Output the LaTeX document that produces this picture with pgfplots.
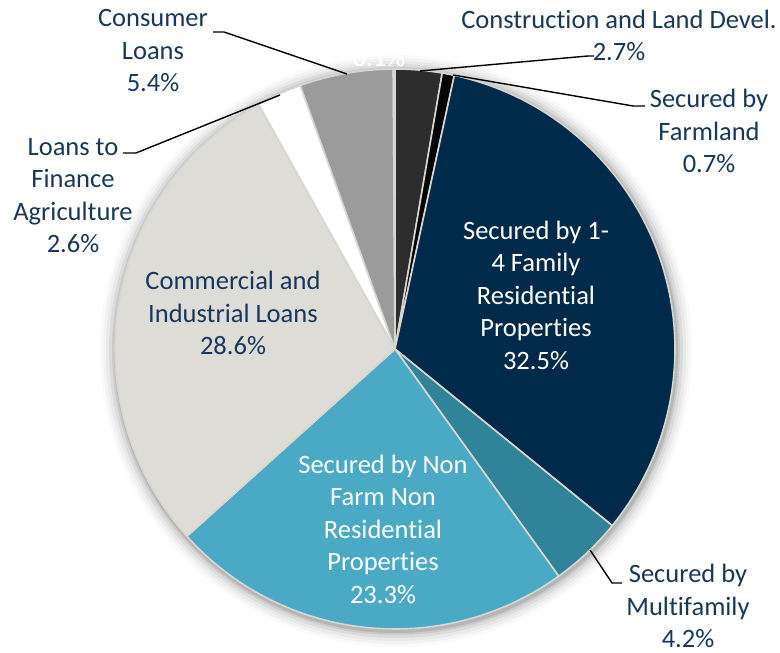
\documentclass[border=0pt]{standalone}
\usepackage{pgfplots}
\pgfplotsset{compat=1.18}
\usepackage{fontspec}
\setmainfont{Carlito}[Ligatures=NoCommon]
\definecolor{txt}{HTML}{17375E}
\definecolor{cConstr}{HTML}{2D2D2D}
\definecolor{cFarm}{HTML}{050505}
\definecolor{cOne}{HTML}{002A4A}
\definecolor{cMulti}{HTML}{31839A}
\definecolor{cNonFarm}{HTML}{4AAAC5}
\definecolor{cCI}{HTML}{DEDCD7}
\definecolor{cAg}{HTML}{FFFFFF}
\definecolor{cCons}{HTML}{9B9B9B}
\definecolor{cOther}{HTML}{D8D6D0}
\definecolor{edge}{HTML}{D8D6D0}
% slice: start cumulative %, share %, colour  (clockwise from top)
\newcommand{\slice}[3]{%
  \addplot[fill=#3, draw=edge, line width=1.6pt, line join=round,
    domain={90-3.5964*(#1+#2)}:{90-3.5964*#1}, samples=80, variable=\t]
    ({395+280*cos(\t)},{304+280*sin(\t)}) -- (axis cs:395,304) -- cycle;}
\newcommand{\shadowring}[2]{\fill[black,opacity=#2] (axis cs:396,302) circle[radius=#1pt];}
\begin{document}
\begin{tikzpicture}
\begin{axis}[x=1pt,y=1pt,xmin=0,xmax=780,ymin=0,ymax=653,hide axis,clip=false]
% soft shadow
\shadowring{296}{0.02}
\shadowring{293}{0.03}
\shadowring{290}{0.04}
\shadowring{287}{0.06}
\shadowring{284}{0.08}
\shadowring{282}{0.1}
% data (percent): 2.7, 0.7, 32.5, 4.2, 23.3, 28.6, 2.6, 5.4, 0.1
\slice{0}{2.7}{cConstr}
\slice{2.7}{0.7}{cFarm}
\slice{3.4}{32.5}{cOne}
\slice{35.9}{4.2}{cMulti}
\slice{40.1}{23.3}{cNonFarm}
\slice{63.4}{28.6}{cCI}
\slice{92.0}{2.6}{cAg}
\slice{94.6}{5.4}{cCons}
\slice{100.0}{0.1}{cOther}
% leader lines
\draw[line width=1.4pt] (axis cs:213,621) -- (axis cs:224,621) -- (axis cs:347,579);
\draw[line width=1.4pt] (axis cs:123,500) -- (axis cs:136,500) -- (axis cs:280,558);
\draw[line width=1.4pt] (axis cs:420,582) -- (axis cs:588,597) -- (axis cs:594,597);
\draw[line width=1.4pt] (axis cs:453,578) -- (axis cs:633,547) -- (axis cs:645,547);
\draw[line width=1.4pt] (axis cs:590,103) -- (axis cs:612,70) -- (axis cs:622,70);
% labels
\tikzset{lab/.style={align=center,inner sep=0pt,font=\fontsize{26.5}{32.5}\selectfont,text=txt}}
\node[lab] at (axis cs:153,602) {Consumer\\Loans\\5.4\%};
\node[lab] at (axis cs:73,457.5) {Loans to\\Finance\\Agriculture\\2.6\%};
\node[lab] at (axis cs:233,340) {Commercial and\\Industrial Loans\\28.6\%};
\node[lab] at (axis cs:619,617.5) {Construction and Land Devel.\\2.7\%};
\node[lab] at (axis cs:709,522) {Secured by\\Farmland\\0.7\%};
\node[lab,text=white] at (axis cs:536,358) {Secured by 1-\\4 Family\\Residential\\Properties\\32.5\%};
\node[lab] at (axis cs:688,47) {Secured by\\Multifamily\\4.2\%};
\node[lab,text=white] at (axis cs:383,124) {Secured by Non\\Farm Non\\Residential\\Properties\\23.3\%};
\node[lab,text=white] at (axis cs:379,595) {0.1\%};
\end{axis}
\pgfresetboundingbox
\path (current axis.south west) rectangle (current axis.north east);
\end{tikzpicture}
\end{document}
